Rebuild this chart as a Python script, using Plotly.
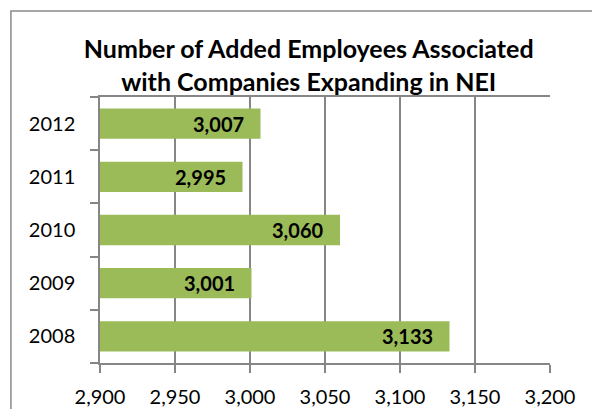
import plotly.graph_objects as go

years = ["2008", "2009", "2010", "2011", "2012"]
values = [3133, 3001, 3060, 2995, 3007]
x_ticks = [2900, 2950, 3000, 3050, 3100, 3150, 3200]
title_text = "Number of Added Employees Associated<br>with Companies Expanding in NEI"

FONT = "Lato"
GRID = "#868686"

fig = go.Figure()
fig.add_trace(go.Bar(
    y=years, x=values, orientation="h",
    marker=dict(color="#9BBB59", line=dict(width=0)),
    hoverinfo="skip",
))

for i, v in enumerate(values):
    fig.add_annotation(
        x=v, y=i, xref="x", yref="y",
        text=f"<b>{v:,}</b>", showarrow=False,
        xanchor="right", yanchor="middle", xshift=-15,
        font=dict(family=FONT, size=20, color="black"),
    )

# chart border (extends past the visible area on right and bottom)
fig.add_shape(type="rect", xref="paper", yref="paper",
              x0=-0.198, x1=1.2, y0=-0.3, y1=1.323,
              line=dict(color="#8a8a8a", width=1.5), fillcolor="rgba(0,0,0,0)")

# page body has an 8px margin, so the figure is 8px smaller each way
fig.update_layout(
    width=592, height=401,
    margin=dict(l=92, r=50, t=89, b=46, autoexpand=False),
    paper_bgcolor="white", plot_bgcolor="white",
    bargap=0.43,
    showlegend=False,
    title=dict(text=f"<b>{title_text}</b>", x=0.508, xanchor="center",
               y=0.875, yanchor="middle",
               font=dict(family=FONT, size=25, color="black")),
    font=dict(family=FONT, size=20, color="black"),
)

fig.update_xaxes(
    range=[2900, 3200], tickvals=x_ticks,
    ticktext=[f"{t:,}" for t in x_ticks],
    showgrid=True, gridcolor=GRID, gridwidth=1.5,
    showline=True, linecolor=GRID, linewidth=1.5, mirror=True,
    ticks="outside", ticklen=8, tickcolor=GRID, tickwidth=1.5,
    zeroline=False, ticklabelstandoff=7, automargin=False,
    tickfont=dict(family=FONT, size=20, color="black"),
)
fig.update_yaxes(
    type="category", categoryorder="array", categoryarray=years,
    range=[-0.5, len(years) - 0.5],
    showgrid=False,
    showline=True, linecolor=GRID, linewidth=1.5,
    ticks="outside", ticklen=8, tickcolor=GRID, tickwidth=1.5,
    tickson="boundaries", ticklabelstandoff=19, automargin=False,
    tickfont=dict(family=FONT, size=20, color="black"),
)

fig.write_html("out.html")
